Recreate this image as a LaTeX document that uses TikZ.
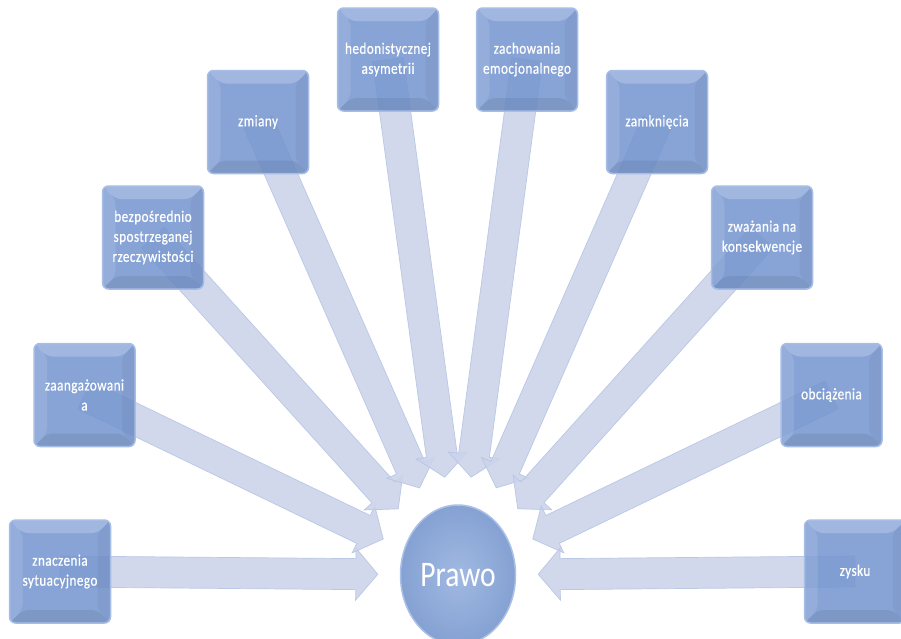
\documentclass[tikz,border=0pt]{standalone}
\usepackage{fontspec}
\newfontfamily\boxfont[FakeStretch=0.82,FakeBold=0.6,LetterSpace=3]{Carlito}
\newfontfamily\ovalfont[FakeStretch=0.82]{Carlito}
\usetikzlibrary{calc,shapes.geometric}
\pgfdeclarelayer{bglayer}
\pgfdeclarelayer{arrowlayer}
\pgfsetlayers{bglayer,arrowlayer,main}
\definecolor{boxblue}{RGB}{116,149,207}
\definecolor{boxrim}{RGB}{166,189,230}
\definecolor{arrowfill}{RGB}{204,212,235}
\definecolor{arrowedge}{RGB}{182,196,228}
\definecolor{ovalblue}{RGB}{138,168,219}
\definecolor{ovalrim}{RGB}{170,192,231}
\tikzset{
  bevel/.style={path picture={
    \fill[white,opacity=0.22] (path picture bounding box.north west) -- (path picture bounding box.north east)
      -- ([xshift=-13pt,yshift=-13pt]path picture bounding box.north east) -- ([xshift=13pt,yshift=-13pt]path picture bounding box.north west) -- cycle;
    \fill[white,opacity=0.10] (path picture bounding box.north west) -- ([xshift=13pt,yshift=-13pt]path picture bounding box.north west)
      -- ([xshift=13pt,yshift=13pt]path picture bounding box.south west) -- (path picture bounding box.south west) -- cycle;
    \fill[black,opacity=0.07] (path picture bounding box.south west) -- (path picture bounding box.south east)
      -- ([xshift=-13pt,yshift=13pt]path picture bounding box.south east) -- ([xshift=13pt,yshift=13pt]path picture bounding box.south west) -- cycle;
    \fill[black,opacity=0.04] (path picture bounding box.north east) -- ([xshift=-13pt,yshift=-13pt]path picture bounding box.north east)
      -- ([xshift=-13pt,yshift=13pt]path picture bounding box.south east) -- (path picture bounding box.south east) -- cycle;
  }},
  box/.style={draw=boxrim, line width=1.5pt, fill=boxblue, fill opacity=0.85, text opacity=1,
    rounded corners=6pt, minimum width=101pt, minimum height=103pt, inner sep=0pt,
    text=white, font=\boxfont\fontsize{16}{20}\selectfont, align=center, bevel},
  oval/.style={ellipse, draw=ovalrim, line width=1.5pt, inner color=ovalblue!80!white, outer color=ovalblue!96!black,
    minimum width=115pt, minimum height=140pt, inner sep=0pt, text=white, font=\ovalfont\fontsize{36}{40}\selectfont},
  arrowstyle/.style={fill=arrowfill, fill opacity=0.9, draw=arrowedge, draw opacity=0.9, line width=0.7pt, line join=miter},
}
\newcommand\convarrow[2]{%
  \path (#1.center) -- (ring) coordinate[pos=1] (#2);
  \coordinate (#2h) at ($(#2)!22pt!(#1.center)$);
  \filldraw[arrowstyle] ($(#1.center)!15.5pt!-90:(#2)$) -- ($(#2h)!15.5pt!90:(#1.center)$)
    -- ($(#2h)!26pt!90:(#1.center)$) -- (#2) -- ($(#2h)!26pt!-90:(#1.center)$)
    -- ($(#2h)!15.5pt!-90:(#1.center)$) -- ($(#1.center)!15.5pt!90:(#2)$) -- cycle;
}
\begin{document}
\begin{tikzpicture}[x=1pt,y=-1pt]
\useasboundingbox (0,0) rectangle (901,638);
\begin{pgfonlayer}{bglayer}
\fill[white] (0,0) rectangle (901,638);
\end{pgfonlayer}

\node[oval] (prawo) at (458,575) {Prawo};
\node[ellipse, minimum width=160pt, minimum height=198pt, inner sep=0pt] (ring) at (prawo.center) {};

\node[box] (b1) at (60,571.5) {znaczenia\\sytuacyjnego};
\node[box] (b2) at (84.5,395) {zaangażowani\\a};
\node[box] (b3) at (153,237.5) {bezpośrednio\\spostrzeganej\\rzeczywistości};
\node[box] (b4) at (258,122) {zmiany};
\node[box] (b5) at (388,59.5) {hedonistycznej\\asymetrii};
\node[box] (b6) at (527,59.5) {zachowania\\emocjonalnego};
\node[box] (b7) at (657,122) {zamknięcia};
\node[box] (b8) at (762,237.5) {zważania na\\konsekwencje};
\node[box] (b9) at (831.5,395) {obciążenia};
\node[box] (b10) at (855,571.5) {zysku};

\begin{pgfonlayer}{arrowlayer}
\convarrow{b1}{t1}
\convarrow{b2}{t2}
\convarrow{b3}{t3}
\convarrow{b4}{t4}
\convarrow{b5}{t5}
\convarrow{b6}{t6}
\convarrow{b7}{t7}
\convarrow{b8}{t8}
\convarrow{b9}{t9}
\convarrow{b10}{t10}
\end{pgfonlayer}
\end{tikzpicture}
\end{document}
